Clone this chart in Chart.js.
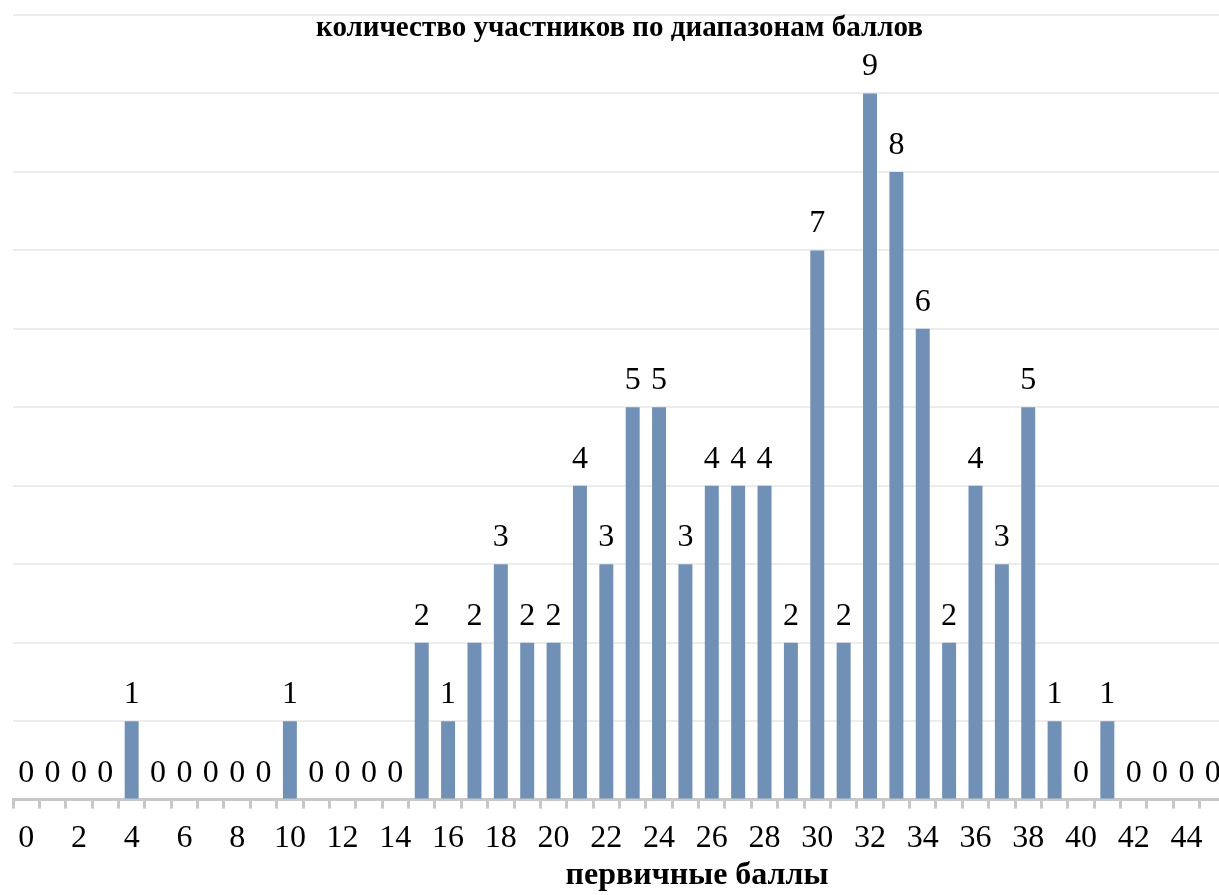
<!DOCTYPE html>
<html>
<head>
<meta charset="utf-8">
<script src="https://cdn.jsdelivr.net/npm/chart.js@4"></script>
<style>
  html, body { margin: 0; padding: 0; background: #fff; overflow: hidden; }
  #wrap { width: 1226px; height: 895px; position: relative; }
</style>
</head>
<body>
<div id="wrap"><canvas id="chart"></canvas></div>
<script>
// первичные баллы 0..45
const scores = Array.from({ length: 46 }, (_, i) => String(i));
const counts = [0, 0, 0, 0, 1, 0, 0, 0, 0, 0,
                1, 0, 0, 0, 0, 2, 1, 2, 3, 2,
                2, 4, 3, 5, 5, 3, 4, 4, 4, 2,
                7, 2, 9, 8, 6, 2, 4, 3, 5, 1,
                0, 1, 0, 0, 0, 0];
const chartTitle = "количество участников по диапазонам баллов";
const xTitle = "первичные баллы";

const serif = "'Liberation Serif', 'Times New Roman', serif";
const barColor = "#7190b5";

// подписи значений, заголовок диаграммы и подпись оси
const overlayText = {
    id: "overlayText",
    afterDatasetsDraw(chart) {
        const ctx = chart.ctx;
        const area = chart.chartArea;
        const meta = chart.getDatasetMeta(0);
        ctx.save();
        ctx.fillStyle = "#000";
        ctx.textAlign = "center";
        ctx.textBaseline = "alphabetic";

        ctx.font = "32px " + serif;
        meta.data.forEach((bar, i) => {
            ctx.fillText(String(counts[i]), bar.x, bar.y - 18);
        });

        ctx.font = "bold 29px " + serif;
        ctx.fillText(chartTitle, (area.left + area.right) / 2, 36);

        ctx.font = "bold 32px " + serif;
        ctx.fillText(xTitle, 697, 884);
        ctx.restore();
    }
};

new Chart(document.getElementById("chart").getContext("2d"), {
    type: "bar",
    data: {
        labels: scores,
        datasets: [{
            data: counts,
            backgroundColor: barColor,
            borderWidth: 0,
            barPercentage: 0.53,
            categoryPercentage: 1
        }]
    },
    options: {
        responsive: true,
        maintainAspectRatio: false,
        animation: false,
        layout: { padding: { left: 13, right: 0, top: 15, bottom: 26 } },
        plugins: {
            legend: { display: false },
            tooltip: { enabled: false },
            title: { display: false }
        },
        scales: {
            y: {
                min: 0,
                max: 10,
                ticks: { display: false, stepSize: 1 },
                border: { display: false },
                grid: { color: "#ececec", lineWidth: 2, drawTicks: false }
            },
            x: {
                ticks: {
                    color: "#000",
                    font: { family: serif, size: 32 },
                    autoSkip: false,
                    maxRotation: 0,
                    padding: 11,
                    callback: (val, i) => (i % 2 === 0 ? scores[i] : "")
                },
                border: { display: true, color: "#c8c8c8", width: 3 },
                grid: {
                    drawOnChartArea: false,
                    drawTicks: true,
                    tickLength: 9,
                    color: "#c8c8c8",
                    lineWidth: 3,
                    offset: true
                }
            }
        }
    },
    plugins: [overlayText]
});
</script>
</body>
</html>
